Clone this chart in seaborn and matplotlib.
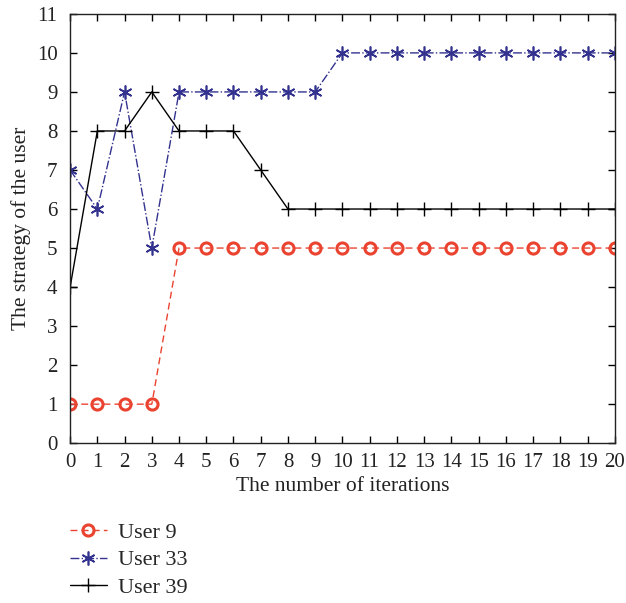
import numpy as np
import pandas as pd
import matplotlib
matplotlib.use("Agg")
import matplotlib.pyplot as plt
import seaborn as sns

iterations = list(range(21))
user9 = [1, 1, 1, 1, 5, 5, 5, 5, 5, 5, 5, 5, 5, 5, 5, 5, 5, 5, 5, 5, 5]
user33 = [7, 6, 9, 5, 9, 9, 9, 9, 9, 9, 10, 10, 10, 10, 10, 10, 10, 10, 10, 10, 10]
user39 = [4, 8, 8, 9, 8, 8, 8, 7, 6, 6, 6, 6, 6, 6, 6, 6, 6, 6, 6, 6, 6]

sns.set_style("ticks")
plt.rcParams['font.family'] = ['Liberation Serif', 'DejaVu Serif']
plt.rcParams['xtick.direction'] = 'in'
plt.rcParams['ytick.direction'] = 'in'

fig = plt.figure(figsize=(6.26, 6.03), dpi=100)
ax = fig.add_axes([0.112, 0.265, 0.870, 0.712])

red = '#EA4330'
blue = '#33338F'
sns.lineplot(x=iterations, y=user9, ax=ax, color=red, linestyle=(0, (5, 3)), lw=1.0,
             marker='o', markersize=8, markerfacecolor='none', markeredgecolor=red,
             markeredgewidth=2.2, label='User 9')
sns.lineplot(x=iterations, y=user33, ax=ax, color=blue, linestyle='-.', lw=1.0,
             marker=(6, 2, 0), markersize=10, markeredgecolor=blue,
             markeredgewidth=1.2, label='User 33')
sns.lineplot(x=iterations, y=user39, ax=ax, color='black', linestyle='-', lw=1.0,
             marker='+', markersize=10, markeredgecolor='black',
             markeredgewidth=1.0, label='User 39')

ax.set_xlim(0, 20)
ax.set_ylim(0, 11)
ax.set_xticks(range(0, 21))
ax.set_yticks(range(0, 12))
ax.tick_params(axis='both', which='both', top=True, right=True, labelsize=15,
               length=5, width=1.0, colors='black', labelcolor='#222222')
ax.tick_params(axis='y', pad=9)
ax.tick_params(axis='x', pad=7)
for s in ax.spines.values():
    s.set_visible(True)
    s.set_linewidth(1.0)
    s.set_color('#222222')

ax.set_xlabel('The number of iterations', fontsize=15.5, color='#222222', labelpad=4)
ax.set_ylabel('The strategy of the user', fontsize=15.5, color='#222222', labelpad=4)

ax.legend_.remove()
handles, labels = ax.get_legend_handles_labels()
fig.legend(handles, labels, loc='upper left', bbox_to_anchor=(0.097, 0.148),
           frameon=False, fontsize=16, handlelength=1.7, labelspacing=0.3,
           handletextpad=0.5, borderaxespad=0)

fig.savefig('out.png', dpi=100)
